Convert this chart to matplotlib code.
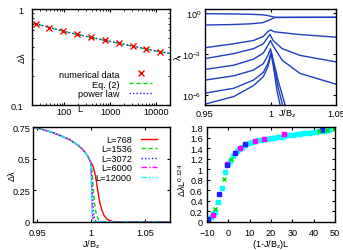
import matplotlib
matplotlib.use("Agg")
import matplotlib.pyplot as plt
from matplotlib.ticker import FormatStrFormatter, LogLocator, NullFormatter, FixedLocator, FuncFormatter

# fonts / gnuplot-ish style
plt.rcParams['font.family'] = ['Liberation Sans', 'DejaVu Sans']
plt.rcParams['font.size'] = 6.6
plt.rcParams['mathtext.fontset'] = 'custom'
plt.rcParams['mathtext.rm'] = 'Liberation Sans'
plt.rcParams['mathtext.it'] = 'Liberation Sans:italic'
plt.rcParams['mathtext.default'] = 'regular'
plt.rcParams['xtick.direction'] = 'in'
plt.rcParams['ytick.direction'] = 'in'
plt.rcParams['xtick.top'] = True
plt.rcParams['ytick.right'] = True
plt.rcParams['xtick.major.size'] = 2.5
plt.rcParams['ytick.major.size'] = 2.5
plt.rcParams['xtick.minor.size'] = 1.3
plt.rcParams['ytick.minor.size'] = 1.3
plt.rcParams['axes.linewidth'] = 1.0

RED = '#ff0000'
GREEN = '#00dd00'
BLUE = '#2020ff'
MAGENTA = '#ff00ff'
CYAN = '#00ffff'
NAVY = '#1f3fc0'

# ---- panel (a): gap vs system size
L_sizes = [24, 48, 96, 192, 384, 768, 1536, 3072, 6000, 12000]
gap_num = [0.70, 0.633, 0.583, 0.548, 0.506, 0.472, 0.443, 0.409, 0.384, 0.357]
L_fit = [20, 100, 1000, 10000, 20000]
gap_eq2 = [0.72, 0.582, 0.458, 0.364, 0.344]
gap_pow = [0.72, 0.583, 0.459, 0.365, 0.344]

# ---- panel (b): entanglement spectrum vs J/Bz
xb = [0.95, 0.97, 0.985, 0.994, 0.998, 1.001, 1.0035, 1.05]
lam_a = [0.90, 0.87, 0.82, 0.75, 0.66, 0.56, 0.49, 0.50]
lam_b = [0.135, 0.145, 0.165, 0.20, 0.28, 0.38, 0.48, 0.49]
x_c1 = [0.95, 0.972, 0.987, 0.9945, 0.998, 1.0, 1.003, 1.0225, 1.05]
lam_c1 = [2.95e-3, 5.75e-3, 1.0e-2, 1.95e-2, 4.47e-2, 5.9e-2, 4.3e-2, 2.7e-2, 1.74e-2]
x_c2 = [0.95, 0.972, 0.987, 0.9945, 0.998, 0.9995, 1.002, 1.009, 1.0225, 1.05]
lam_c2 = [4.7e-4, 1.1e-3, 2.5e-3, 5.75e-3, 1.74e-2, 2.8e-2, 1.0e-2, 2.5e-3, 8.1e-4, 2.7e-4]
x_c3 = [0.95, 0.972, 0.987, 0.9945, 0.998, 1.0, 1.002, 1.009, 1.0225, 1.05]
lam_c3 = [7.6e-5, 1.55e-4, 4.3e-4, 1.2e-3, 4.4e-3, 1.0e-2, 4.0e-3, 3.5e-4, 3.9e-5, 6.3e-6]
x_c4 = [0.95, 0.972, 0.987, 0.9945, 0.998, 1.0, 1.002, 1.006, 1.012]
lam_c4 = [1.26e-5, 2.6e-5, 6.8e-5, 2.0e-4, 8.1e-4, 2.5e-3, 4e-4, 1e-5, 1e-7]
x_c5 = [0.95, 0.972, 0.987, 0.9945, 0.998, 1.0005, 1.0025, 1.006, 1.01]
lam_c5 = [1.4e-6, 3.2e-6, 1.26e-5, 4.6e-5, 2.0e-4, 1.45e-3, 1.5e-4, 3e-6, 1e-7]
x_c6 = [0.95, 0.972, 0.987, 0.9945, 0.998, 1.0005, 1.0025, 1.005, 1.008]
lam_c6 = [2.2e-7, 7.9e-7, 5.0e-6, 2.2e-5, 1.17e-4, 1.1e-3, 8e-5, 2e-6, 1e-7]

# ---- panel (c): gap vs J/Bz for several L
labels_c = ['L=768', 'L=1536', 'L=3072', 'L=6000', 'L=12000']
x_common = [0.946, 0.955, 0.963, 0.972, 0.98, 0.987, 0.992, 0.996, 0.998, 0.9995]
gap_common = [0.75, 0.73, 0.71, 0.68, 0.65, 0.61, 0.575, 0.53, 0.50, 0.47]
x_768 = [1.0005, 1.002, 1.004, 1.006, 1.008, 1.010, 1.012, 1.015, 1.02, 1.025, 1.073]
gap_768 = [0.46, 0.43, 0.36, 0.25, 0.15, 0.09, 0.05, 0.02, 0.003, 0.0, 0.0]
x_1536 = [1.0005, 1.0012, 1.0018, 1.0025, 1.0033, 1.0045, 1.0055, 1.007, 1.009, 1.073]
gap_1536 = [0.42, 0.35, 0.27, 0.19, 0.13, 0.07, 0.04, 0.015, 0.0, 0.0]
x_3072 = [1.0003, 1.0008, 1.0012, 1.0017, 1.0022, 1.003, 1.0045, 1.006, 1.073]
gap_3072 = [0.38, 0.28, 0.2, 0.12, 0.07, 0.03, 0.005, 0.0, 0.0]
x_6000 = [1.0002, 1.0006, 1.001, 1.0014, 1.002, 1.003, 1.073]
gap_6000 = [0.33, 0.2, 0.1, 0.04, 0.01, 0.0, 0.0]
x_12000 = [1.0001, 1.0004, 1.0007, 1.001, 1.0015, 1.073]
gap_12000 = [0.30, 0.16, 0.07, 0.02, 0.0, 0.0]

# ---- panel (d): scaling collapse
sx_1536 = [-6.1, -2.2, 1.4, 42.3, 46.3, 49.7]
sy_1536 = [0.24, 0.81, 1.20, 1.73, 1.75, 1.77]
sx_3072 = [-9.7, -4.2, -0.6, 3.1, 7.8, 43.8]
sy_3072 = [0.05, 0.53, 1.08, 1.30, 1.47, 1.74]
sx_6000 = [-7.2, -0.8, 5.7, 12.6, 16.5, 26.0]
sy_6000 = [0.14, 1.10, 1.41, 1.54, 1.57, 1.66]
sx_12000 = [-9.3, -8.3, -7.3, -6.4, -4.7, -3.1, -1.6, -0.3, 0.6, 2.0, 3.9, 5.0, 6.5, 8.0,
            9.5, 11.0, 12.5, 14.0, 15.5, 17.0, 18.5, 20.0, 21.5, 23.0, 24.5, 26.0, 27.5,
            29.0, 30.5, 32.0, 33.5, 35.0, 36.5, 38.0, 39.5, 41.0, 42.5, 44.0, 45.5, 47.0]
sy_12000 = [0.04, 0.09, 0.15, 0.19, 0.37, 0.65, 0.94, 1.10, 1.16, 1.25, 1.35, 1.39, 1.43, 1.46,
            1.49, 1.51, 1.53, 1.55, 1.56, 1.57, 1.58, 1.59, 1.60, 1.61, 1.62, 1.63, 1.64,
            1.645, 1.65, 1.66, 1.67, 1.68, 1.685, 1.69, 1.70, 1.71, 1.72, 1.725, 1.73, 1.74]

W, H = 343, 251
fig = plt.figure(figsize=(W / 100, H / 100), dpi=100)


def box(x0, y0, x1, y1):
    # pixel box (from top-left) -> figure fraction
    return [x0 / W, 1 - y1 / H, (x1 - x0) / W, (y1 - y0) / H]


# (a)
ax1 = fig.add_axes(box(32, 10, 170, 106))
ax1.plot(L_fit, gap_eq2, color=GREEN, ls=(0, (3, 2)), lw=1, label='Eq. (2)')
ax1.plot(L_fit, gap_pow, color=BLUE, ls=(0, (1, 1.5)), lw=1, label='power law')
ax1.plot(L_sizes, gap_num, ls='none', marker='x', color=RED, ms=5, mew=1, label='numerical data')
ax1.set_xscale('log')
ax1.set_yscale('log')
ax1.set_xlim(20, 20000)
ax1.set_ylim(0.1, 1)
ax1.xaxis.set_major_locator(FixedLocator([100, 1000, 10000]))
ax1.xaxis.set_major_formatter(FormatStrFormatter('%g'))
ax1.xaxis.set_minor_locator(LogLocator(subs=range(2, 10)))
ax1.xaxis.set_minor_formatter(NullFormatter())
ax1.yaxis.set_major_locator(FixedLocator([0.1, 1]))
ax1.yaxis.set_major_formatter(FormatStrFormatter('%g'))
ax1.yaxis.set_minor_locator(LogLocator(subs=range(2, 10)))
ax1.yaxis.set_minor_formatter(NullFormatter())
ax1.tick_params(axis='x', pad=1.5)
ax1.tick_params(axis='y', pad=6)
h, l = ax1.get_legend_handles_labels()
ax1.legend([h[2], h[0], h[1]], [l[2], l[0], l[1]], loc='lower right', bbox_to_anchor=(0.906, 0.02),
           frameon=False, markerfirst=False, borderpad=0, labelspacing=0.1,
           handlelength=2.6, handletextpad=1.0)
fig.text(80 / W, 1 - 110 / H, 'L', ha='center', va='center')
fig.text(22 / W, 1 - 58 / H, 'Δλ', rotation=90, ha='center', va='center')

# (b)
ax2 = fig.add_axes(box(205, 10, 336, 106))
for xs, ys in [(xb, lam_a), (xb, lam_b), (x_c1, lam_c1), (x_c2, lam_c2), (x_c3, lam_c3),
               (x_c4, lam_c4), (x_c5, lam_c5), (x_c6, lam_c6)]:
    ax2.plot(xs, ys, color=NAVY, lw=1)
ax2.set_yscale('log')
ax2.set_xlim(0.95, 1.05)
ax2.set_ylim(1.9e-7, 2.0)
decade_lbl = {1e-6: '$10^{-6}$', 1e-3: '$10^{-3}$', 1: '$10^{0}$'}
ax2.yaxis.set_major_locator(FixedLocator([1e-6, 1e-3, 1]))
ax2.yaxis.set_major_formatter(FuncFormatter(lambda v, p: decade_lbl.get(v, '')))
ax2.yaxis.set_minor_locator(FixedLocator([]))
ax2.set_xticks([0.95, 1, 1.05])
ax2.xaxis.set_major_formatter(FormatStrFormatter('%g'))
ax2.tick_params(axis='x', pad=3)
ax2.tick_params(axis='y', pad=2.5)
fig.text(287 / W, 1 - 113.5 / H, 'J/B$_z$', ha='center', va='center')
fig.text(179 / W, 1 - 57 / H, 'λ$_i$', rotation=90, ha='center', va='center')

# (c)
ax3 = fig.add_axes(box(33, 128, 170, 223))
styles = [(RED, '-'), (GREEN, (0, (3, 2))), (BLUE, (0, (1, 1.5))),
          (MAGENTA, (0, (4, 1.5, 1, 1.5))), (CYAN, (0, (4, 1.5, 1, 1.5, 1, 1.5)))]
drops = [(x_768, gap_768), (x_1536, gap_1536), (x_3072, gap_3072), (x_6000, gap_6000), (x_12000, gap_12000)]
for (col, ls), (xd, yd), lab in zip(styles, drops, labels_c):
    ax3.plot(x_common + xd, gap_common + yd, color=col, ls=ls, lw=1, label=lab)
ax3.set_xlim(0.946, 1.073)
ax3.set_ylim(0, 0.75)
ax3.set_xticks([0.95, 1, 1.05])
ax3.set_yticks([0, 0.25, 0.5, 0.75])
ax3.xaxis.set_major_formatter(FormatStrFormatter('%g'))
ax3.yaxis.set_major_formatter(FormatStrFormatter('%g'))
ax3.tick_params(axis='x', pad=4.5)
ax3.tick_params(axis='y', pad=2)
ax3.legend(loc='upper right', bbox_to_anchor=(0.942, 0.965), frameon=False, markerfirst=False,
           borderpad=0, labelspacing=0.05, handlelength=1.8, handletextpad=1.0)
fig.text(91 / W, 1 - 245 / H, 'J/B$_z$', ha='center', va='center')
fig.text(12.5 / W, 1 - 176 / H, 'Δλ', rotation=90, ha='center', va='center')

# (d)
ax4 = fig.add_axes(box(207, 128, 335, 223))
ax4.plot(sx_12000, sy_12000, ls='none', marker='s', ms=3.3, color=CYAN, mec=CYAN)
ax4.plot(sx_6000, sy_6000, ls='none', marker='s', ms=3.3, color=MAGENTA, mec=MAGENTA)
ax4.plot(sx_3072, sy_3072, ls='none', marker='s', ms=3.3, color=BLUE, mec=BLUE)
ax4.plot(sx_1536, sy_1536, ls='none', marker='x', ms=3.5, mew=1, color=GREEN)
ax4.set_xlim(-10, 50)
ax4.set_ylim(0, 1.8)
ax4.set_xticks(range(-10, 51, 10))
ax4.set_yticks([0, 0.2, 0.4, 0.6, 0.8, 1, 1.2, 1.4, 1.6, 1.8])
ax4.yaxis.set_major_formatter(FormatStrFormatter('%g'))
ax4.tick_params(axis='x', pad=4.5)
ax4.tick_params(axis='y', pad=3)
fig.text(271 / W, 1 - 245 / H, '(1-J/B$_z$)L', ha='center', va='center')
fig.text(182 / W, 1 - 180 / H, 'ΔλL$^{0.124}$', rotation=90, ha='center', va='center')

plt.savefig('out.png', dpi=100)
